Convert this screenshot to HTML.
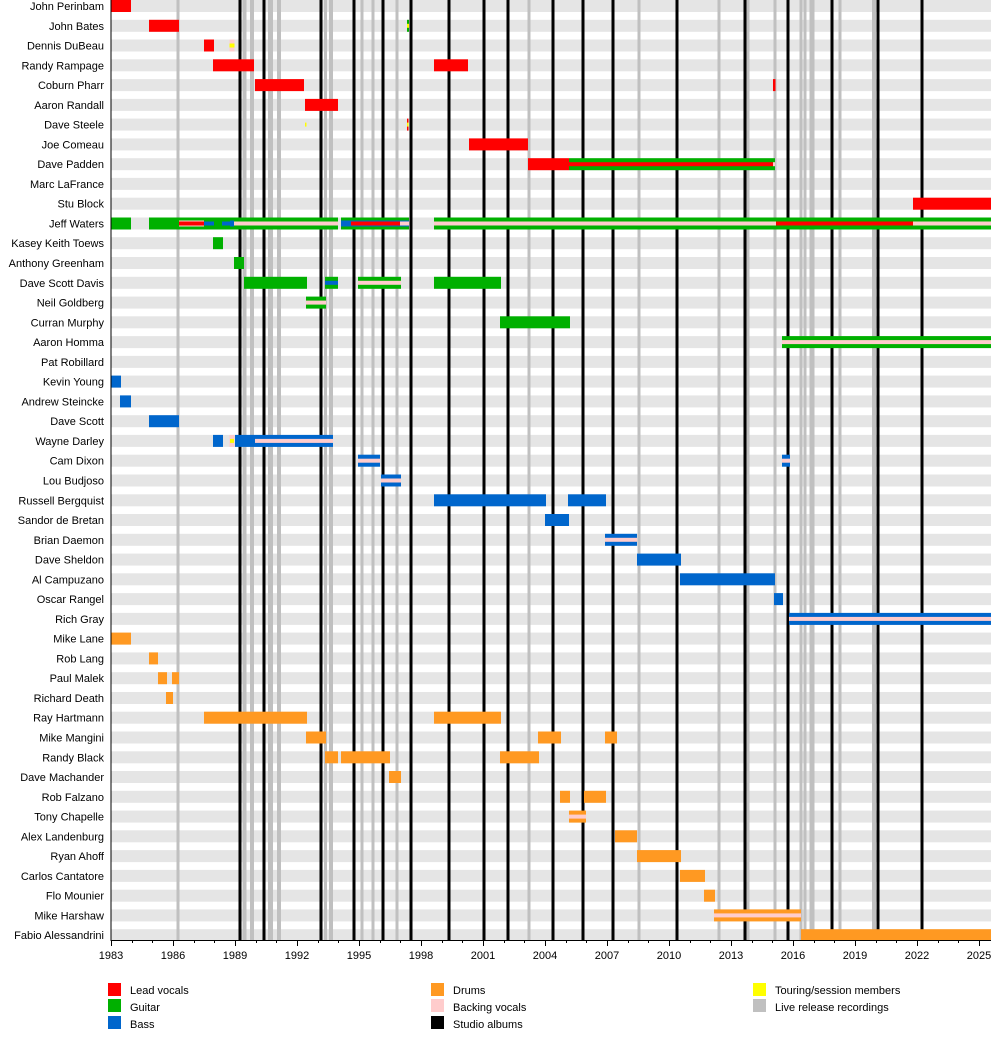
<!DOCTYPE html>
<html><head><meta charset="utf-8"><style>
html,body{margin:0;padding:0;background:#fff;}
svg{display:block;font-family:"Liberation Sans",Arial,sans-serif;font-size:11px;}
</style></head><body>
<svg width="1000" height="1040" viewBox="0 0 1000 1040" xmlns="http://www.w3.org/2000/svg">
<!-- stripes -->
<g fill="#e5e5e5">
<rect x="111" y="0" width="880" height="12"/><rect x="111" y="19.8" width="880" height="12"/><rect x="111" y="39.5" width="880" height="12"/><rect x="111" y="59.3" width="880" height="12"/><rect x="111" y="79.1" width="880" height="12"/><rect x="111" y="98.9" width="880" height="12"/><rect x="111" y="118.6" width="880" height="12"/><rect x="111" y="138.4" width="880" height="12"/><rect x="111" y="158.2" width="880" height="12"/><rect x="111" y="177.9" width="880" height="12"/><rect x="111" y="197.7" width="880" height="12"/><rect x="111" y="217.5" width="880" height="12"/><rect x="111" y="237.2" width="880" height="12"/><rect x="111" y="257" width="880" height="12"/><rect x="111" y="276.8" width="880" height="12"/><rect x="111" y="296.6" width="880" height="12"/><rect x="111" y="316.3" width="880" height="12"/><rect x="111" y="336.1" width="880" height="12"/><rect x="111" y="355.9" width="880" height="12"/><rect x="111" y="375.6" width="880" height="12"/><rect x="111" y="395.4" width="880" height="12"/><rect x="111" y="415.2" width="880" height="12"/><rect x="111" y="434.9" width="880" height="12"/><rect x="111" y="454.7" width="880" height="12"/><rect x="111" y="474.5" width="880" height="12"/><rect x="111" y="494.3" width="880" height="12"/><rect x="111" y="514" width="880" height="12"/><rect x="111" y="533.8" width="880" height="12"/><rect x="111" y="553.6" width="880" height="12"/><rect x="111" y="573.3" width="880" height="12"/><rect x="111" y="593.1" width="880" height="12"/><rect x="111" y="612.9" width="880" height="12"/><rect x="111" y="632.6" width="880" height="12"/><rect x="111" y="652.4" width="880" height="12"/><rect x="111" y="672.2" width="880" height="12"/><rect x="111" y="692" width="880" height="12"/><rect x="111" y="711.7" width="880" height="12"/><rect x="111" y="731.5" width="880" height="12"/><rect x="111" y="751.3" width="880" height="12"/><rect x="111" y="771" width="880" height="12"/><rect x="111" y="790.8" width="880" height="12"/><rect x="111" y="810.6" width="880" height="12"/><rect x="111" y="830.3" width="880" height="12"/><rect x="111" y="850.1" width="880" height="12"/><rect x="111" y="869.9" width="880" height="12"/><rect x="111" y="889.7" width="880" height="12"/><rect x="111" y="909.4" width="880" height="12"/><rect x="111" y="929.2" width="880" height="11"/>
</g>
<!-- live lines -->
<g stroke="#c0c0c0" stroke-width="3">
<line x1="178" y1="0" x2="178" y2="940"/><line x1="244.5" y1="0" x2="244.5" y2="940" stroke-width="4"/><line x1="252" y1="0" x2="252" y2="940" stroke-width="4"/><line x1="270.5" y1="0" x2="270.5" y2="940" stroke-width="5"/><line x1="279" y1="0" x2="279" y2="940" stroke-width="4"/><line x1="325.5" y1="0" x2="325.5" y2="940"/><line x1="331" y1="0" x2="331" y2="940" stroke-width="4"/><line x1="362" y1="0" x2="362" y2="940"/><line x1="373" y1="0" x2="373" y2="940"/><line x1="397" y1="0" x2="397" y2="940"/><line x1="529" y1="0" x2="529" y2="940"/><line x1="639" y1="0" x2="639" y2="940"/><line x1="719" y1="0" x2="719" y2="940"/><line x1="748" y1="0" x2="748" y2="940"/><line x1="775" y1="0" x2="775" y2="940"/><line x1="801" y1="0" x2="801" y2="940"/><line x1="805" y1="0" x2="805" y2="940"/><line x1="812" y1="0" x2="812" y2="940" stroke-width="5"/><line x1="840" y1="0" x2="840" y2="940"/><line x1="874" y1="0" x2="874" y2="940" stroke-width="4"/>
</g>
<!-- studio albums -->
<g stroke="#000" stroke-width="3">
<line x1="240" y1="0" x2="240" y2="940"/><line x1="264" y1="0" x2="264" y2="940"/><line x1="321" y1="0" x2="321" y2="940"/><line x1="354" y1="0" x2="354" y2="940"/><line x1="383" y1="0" x2="383" y2="940"/><line x1="411" y1="0" x2="411" y2="940"/><line x1="449" y1="0" x2="449" y2="940"/><line x1="484" y1="0" x2="484" y2="940"/><line x1="508" y1="0" x2="508" y2="940"/><line x1="553" y1="0" x2="553" y2="940"/><line x1="583" y1="0" x2="583" y2="940"/><line x1="613" y1="0" x2="613" y2="940"/><line x1="677" y1="0" x2="677" y2="940"/><line x1="745" y1="0" x2="745" y2="940"/><line x1="788" y1="0" x2="788" y2="940"/><line x1="832" y1="0" x2="832" y2="940"/><line x1="878" y1="0" x2="878" y2="940"/><line x1="922" y1="0" x2="922" y2="940"/>
</g>
<!-- bars -->
<g>
<!-- 0 -->
<rect x="111" y="0" width="20" height="12" fill="#f00"/>
<!-- 1 -->
<rect x="149" y="19.8" width="30" height="12" fill="#f00"/>
<rect x="407" y="19.8" width="2" height="12" fill="#00b000"/><rect x="407" y="23.8" width="2" height="4" fill="#ff0"/>
<!-- 2 -->
<rect x="204" y="39.5" width="10" height="12" fill="#f00"/>
<rect x="229.5" y="39.5" width="5" height="12" fill="#fcc"/><rect x="229.5" y="43.5" width="5" height="4" fill="#ff0"/>
<!-- 3 -->
<rect x="213" y="59.3" width="41" height="12" fill="#f00"/>
<rect x="434" y="59.3" width="34" height="12" fill="#f00"/>
<!-- 4 -->
<rect x="255" y="79.1" width="49" height="12" fill="#f00"/>
<rect x="773" y="79.1" width="2.5" height="12" fill="#f00"/>
<!-- 5 -->
<rect x="305" y="98.9" width="33" height="12" fill="#f00"/>
<!-- 6 -->
<rect x="305" y="122.6" width="1.5" height="4" fill="#ff0"/>
<rect x="407" y="118.6" width="1.5" height="12" fill="#f00"/><rect x="407" y="122.6" width="1.5" height="4" fill="#ff0"/>
<!-- 7 -->
<rect x="469" y="138.4" width="59" height="12" fill="#f00"/>
<!-- 8 -->
<rect x="528" y="158.2" width="41" height="12" fill="#f00"/>
<rect x="569" y="158.2" width="206" height="12" fill="#00b000"/><rect x="569" y="162.2" width="204" height="4" fill="#f00"/><rect x="773" y="162.2" width="2" height="4" fill="#fcc"/>
<!-- 10 -->
<rect x="913" y="197.7" width="78" height="12" fill="#f00"/>
<!-- 11 Jeff Waters -->
<rect x="111" y="217.5" width="20" height="12" fill="#00b000"/>
<rect x="149" y="217.5" width="189" height="12" fill="#00b000"/>
<rect x="179" y="221.5" width="25" height="4" fill="#f00"/><rect x="179" y="220.5" width="25" height="1" fill="#fcc"/><rect x="179" y="225.5" width="25" height="1" fill="#fcc"/>
<rect x="204" y="221.5" width="10" height="4" fill="#06c"/>
<rect x="222" y="221.5" width="8" height="4" fill="#06c"/>
<rect x="230" y="220.5" width="4" height="6" fill="#06c"/>
<rect x="234" y="221.5" width="104" height="4" fill="#fcc"/>
<rect x="341" y="217.5" width="68" height="12" fill="#00b000"/>
<rect x="341" y="220.5" width="68" height="6" fill="#06c"/>
<rect x="351" y="221.5" width="58" height="4" fill="#f00"/>
<rect x="400" y="221.5" width="9" height="4" fill="#fcc"/>
<rect x="434" y="217.5" width="557" height="12" fill="#00b000"/>
<rect x="434" y="221.5" width="557" height="4" fill="#fcc"/>
<rect x="776" y="221.5" width="137" height="4" fill="#f00"/>
<!-- 12,13 -->
<rect x="213" y="237.2" width="10" height="12" fill="#00b000"/>
<rect x="234" y="257" width="10" height="12" fill="#00b000"/>
<!-- 14 -->
<rect x="244" y="276.8" width="63" height="12" fill="#00b000"/>
<rect x="325" y="276.8" width="13" height="12" fill="#00b000"/><rect x="325" y="280.8" width="13" height="4" fill="#06c"/>
<rect x="358" y="276.8" width="43" height="12" fill="#00b000"/><rect x="358" y="280.8" width="43" height="4" fill="#fcc"/>
<rect x="434" y="276.8" width="67" height="12" fill="#00b000"/>
<!-- 15 -->
<rect x="306" y="296.6" width="20" height="12" fill="#00b000"/><rect x="306" y="300.6" width="20" height="4" fill="#fcc"/>
<!-- 16 -->
<rect x="500" y="316.3" width="70" height="12" fill="#00b000"/>
<!-- 17 -->
<rect x="782" y="336.1" width="209" height="12" fill="#00b000"/><rect x="782" y="340.1" width="209" height="4" fill="#fcc"/>
<!-- 19-22 -->
<rect x="111" y="375.6" width="10" height="12" fill="#06c"/>
<rect x="120" y="395.4" width="11" height="12" fill="#06c"/>
<rect x="149" y="415.2" width="30" height="12" fill="#06c"/>
<rect x="213" y="434.9" width="10" height="12" fill="#06c"/>
<rect x="229.5" y="434.9" width="5" height="12" fill="#fcc"/><rect x="230" y="438.9" width="4" height="4" fill="#ff0"/>
<rect x="235" y="434.9" width="98" height="12" fill="#06c"/><rect x="255" y="438.9" width="78" height="4" fill="#fcc"/>
<!-- 23,24 -->
<rect x="358" y="454.7" width="22" height="12" fill="#06c"/><rect x="358" y="458.7" width="22" height="4" fill="#fcc"/>
<rect x="782" y="454.7" width="8" height="12" fill="#06c"/><rect x="782" y="458.7" width="8" height="4" fill="#fcc"/>
<rect x="381" y="474.5" width="20" height="12" fill="#06c"/><rect x="381" y="478.5" width="20" height="4" fill="#fcc"/>
<!-- 25-31 -->
<rect x="434" y="494.3" width="112" height="12" fill="#06c"/>
<rect x="568" y="494.3" width="38" height="12" fill="#06c"/>
<rect x="545" y="514" width="24" height="12" fill="#06c"/>
<rect x="605" y="533.8" width="32" height="12" fill="#06c"/><rect x="605" y="537.8" width="32" height="4" fill="#fcc"/>
<rect x="637" y="553.6" width="44" height="12" fill="#06c"/>
<rect x="680" y="573.3" width="95" height="12" fill="#06c"/>
<rect x="774" y="593.1" width="9" height="12" fill="#06c"/>
<rect x="789" y="612.9" width="202" height="12" fill="#06c"/><rect x="789" y="616.9" width="202" height="4" fill="#fcc"/>
<!-- drums -->
<g fill="#f92">
<rect x="111" y="632.6" width="20" height="12"/>
<rect x="149" y="652.4" width="9" height="12"/>
<rect x="158" y="672.2" width="9" height="12"/><rect x="172" y="672.2" width="7" height="12"/>
<rect x="166" y="692" width="7" height="12"/>
<rect x="204" y="711.7" width="103" height="12"/><rect x="434" y="711.7" width="67" height="12"/>
<rect x="306" y="731.5" width="20" height="12"/><rect x="538" y="731.5" width="23" height="12"/><rect x="605" y="731.5" width="12" height="12"/>
<rect x="325" y="751.3" width="13" height="12"/><rect x="341" y="751.3" width="49" height="12"/><rect x="500" y="751.3" width="39" height="12"/>
<rect x="389" y="771" width="12" height="12"/>
<rect x="560" y="790.8" width="10" height="12"/><rect x="584" y="790.8" width="22" height="12"/>
<rect x="569" y="810.6" width="17" height="12"/>
<rect x="615" y="830.3" width="22" height="12"/>
<rect x="637" y="850.1" width="44" height="12"/>
<rect x="680" y="869.9" width="25" height="12"/>
<rect x="704" y="889.7" width="11" height="12"/>
<rect x="714" y="909.4" width="87" height="12"/>
<rect x="801" y="929.2" width="190" height="11"/>
</g>
<rect x="569" y="814.6" width="17" height="4" fill="#fcc"/>
<rect x="714" y="913.4" width="87" height="4" fill="#fcc"/>
</g>
<!-- axis -->
<line x1="111" y1="0" x2="111" y2="940.5" stroke="#000" stroke-width="1"/>
<line x1="110.5" y1="940.5" x2="991" y2="940.5" stroke="#000" stroke-width="1"/>
<g stroke="#000" stroke-width="1">
<path d="M111.5 940v6M173.5 940v6M235.5 940v6M297.5 940v6M359.5 940v6M421.5 940v6M483.5 940v6M545.5 940v6M607.5 940v6M669.5 940v6M731.5 940v6M793.5 940v6M855.5 940v6M917.5 940v6M979.5 940v6"/>
<path d="M132.5 940v3M152.5 940v3M194.5 940v3M214.5 940v3M256.5 940v3M276.5 940v3M318.5 940v3M338.5 940v3M380.5 940v3M400.5 940v3M442.5 940v3M462.5 940v3M504.5 940v3M524.5 940v3M566.5 940v3M586.5 940v3M628.5 940v3M648.5 940v3M690.5 940v3M710.5 940v3M752.5 940v3M772.5 940v3M814.5 940v3M834.5 940v3M876.5 940v3M896.5 940v3M938.5 940v3M958.5 940v3"/>
</g>
<g text-anchor="middle" fill="#000">
<text x="111" y="959">1983</text><text x="173" y="959">1986</text><text x="235" y="959">1989</text><text x="297" y="959">1992</text><text x="359" y="959">1995</text><text x="421" y="959">1998</text><text x="483" y="959">2001</text><text x="545" y="959">2004</text><text x="607" y="959">2007</text><text x="669" y="959">2010</text><text x="731" y="959">2013</text><text x="793" y="959">2016</text><text x="855" y="959">2019</text><text x="917" y="959">2022</text><text x="979" y="959">2025</text>
</g>
<!-- names -->
<g text-anchor="end" fill="#000">
<text x="104" y="10">John Perinbam</text><text x="104" y="29.8">John Bates</text><text x="104" y="49.5">Dennis DuBeau</text><text x="104" y="69.3">Randy Rampage</text><text x="104" y="89.1">Coburn Pharr</text><text x="104" y="108.9">Aaron Randall</text><text x="104" y="128.6">Dave Steele</text><text x="104" y="148.4">Joe Comeau</text><text x="104" y="168.2">Dave Padden</text><text x="104" y="187.9">Marc LaFrance</text><text x="104" y="207.7">Stu Block</text><text x="104" y="227.5">Jeff Waters</text><text x="104" y="247.2">Kasey Keith Toews</text><text x="104" y="267">Anthony Greenham</text><text x="104" y="286.8">Dave Scott Davis</text><text x="104" y="306.6">Neil Goldberg</text><text x="104" y="326.3">Curran Murphy</text><text x="104" y="346.1">Aaron Homma</text><text x="104" y="365.9">Pat Robillard</text><text x="104" y="385.6">Kevin Young</text><text x="104" y="405.4">Andrew Steincke</text><text x="104" y="425.2">Dave Scott</text><text x="104" y="444.9">Wayne Darley</text><text x="104" y="464.7">Cam Dixon</text><text x="104" y="484.5">Lou Budjoso</text><text x="104" y="504.3">Russell Bergquist</text><text x="104" y="524">Sandor de Bretan</text><text x="104" y="543.8">Brian Daemon</text><text x="104" y="563.6">Dave Sheldon</text><text x="104" y="583.3">Al Campuzano</text><text x="104" y="603.1">Oscar Rangel</text><text x="104" y="622.9">Rich Gray</text><text x="104" y="642.6">Mike Lane</text><text x="104" y="662.4">Rob Lang</text><text x="104" y="682.2">Paul Malek</text><text x="104" y="702">Richard Death</text><text x="104" y="721.7">Ray Hartmann</text><text x="104" y="741.5">Mike Mangini</text><text x="104" y="761.3">Randy Black</text><text x="104" y="781">Dave Machander</text><text x="104" y="800.8">Rob Falzano</text><text x="104" y="820.6">Tony Chapelle</text><text x="104" y="840.3">Alex Landenburg</text><text x="104" y="860.1">Ryan Ahoff</text><text x="104" y="879.9">Carlos Cantatore</text><text x="104" y="899.7">Flo Mounier</text><text x="104" y="919.4">Mike Harshaw</text><text x="104" y="939.2">Fabio Alessandrini</text>
</g>
<!-- legend -->
<rect x="108" y="983" width="13" height="13" fill="#f00"/><text x="130" y="994">Lead vocals</text>
<rect x="108" y="999" width="13" height="13" fill="#00b000"/><text x="130" y="1011">Guitar</text>
<rect x="108" y="1016" width="13" height="13" fill="#06c"/><text x="130" y="1028">Bass</text>
<rect x="431" y="983" width="13" height="13" fill="#f92"/><text x="453" y="994">Drums</text>
<rect x="431" y="999" width="13" height="13" fill="#fcc"/><text x="453" y="1011">Backing vocals</text>
<rect x="431" y="1016" width="13" height="13" fill="#000"/><text x="453" y="1028">Studio albums</text>
<rect x="753" y="983" width="13" height="13" fill="#ff0"/><text x="775" y="994">Touring/session members</text>
<rect x="753" y="999" width="13" height="13" fill="#c0c0c0"/><text x="775" y="1011">Live release recordings</text>
</svg>
</body></html>
